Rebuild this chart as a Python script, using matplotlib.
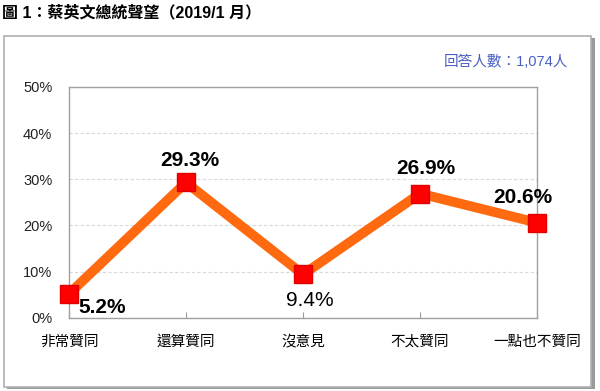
import matplotlib
matplotlib.use('Agg')
from matplotlib import pyplot as plt
from matplotlib.patches import Rectangle
from matplotlib.ticker import FuncFormatter

plt.rcParams['font.family'] = ['Liberation Sans', 'Noto Sans CJK TC', 'DejaVu Sans']

# data
categories = ['非常贊同', '還算贊同', '沒意見', '不太贊同', '一點也不贊同']
values = [5.2, 29.3, 9.4, 26.9, 20.6]
y_ticks = [0, 10, 20, 30, 40, 50]

fig = plt.figure(figsize=(6, 3.91), dpi=100)

# outer frame with a small shadow
fig.patches.append(Rectangle((0.011, 0.004), 0.98, 0.898, transform=fig.transFigure,
                             facecolor='#9a9a9a', edgecolor='none', zorder=0))
fig.patches.append(Rectangle((0.007, 0.010), 0.978, 0.898, transform=fig.transFigure,
                             facecolor='white', edgecolor='#b0b0b0', linewidth=1.2, zorder=1))

fig.text(0.004, 0.968, '圖 1：蔡英文總統聲望（2019/1 月）', fontsize=11.5,
         fontweight='bold', ha='left', va='center')
fig.text(0.947, 0.842, '回答人數：1,074人', fontsize=10.5, color='#4a5fc4',
         ha='right', va='center')

ax = fig.add_axes([0.115, 0.187, 0.78, 0.591])
ax.set_zorder(2)
x = list(range(len(categories)))
ax.plot(x, values, color='#ff6a10', linewidth=7, solid_capstyle='round',
        zorder=3, clip_on=False)
ax.plot(x, values, linestyle='none', marker='s', markersize=13,
        markerfacecolor='#ff0000', markeredgecolor='#e00000', zorder=4, clip_on=False)

ax.set_xlim(0, len(categories) - 1)
ax.set_ylim(0, 50)
ax.set_yticks(y_ticks)
ax.yaxis.set_major_formatter(FuncFormatter(lambda v, p: '%d%%' % v))
ax.set_xticks(x)
ax.set_xticklabels(categories, fontsize=10.5)
ax.tick_params(axis='x', direction='in', length=4, color='#999999', pad=12)
ax.tick_params(axis='y', length=0, labelsize=10.5, pad=12)
for t in ax.get_yticklabels():
    t.set_color('#222222')

for s in ax.spines.values():
    s.set_color('#a0a0a0')
    s.set_linewidth(1)
ax.grid(axis='y', color='#d8d8d8', linestyle=(0, (3, 2)), linewidth=0.8)
ax.set_axisbelow(True)

# data labels: offsets in points from each marker
label_offsets = [(24, -10), (3, 16), (5, -19), (4, 18), (-10, 18)]
label_bold = [True, True, False, True, True]
for xi, v, off, b in zip(x, values, label_offsets, label_bold):
    ax.annotate('%.1f%%' % v, (xi, v), xytext=off, textcoords='offset points',
                ha='center', va='center', fontsize=15,
                fontweight='bold' if b else 'normal', zorder=5, annotation_clip=False)

fig.savefig('out.png', dpi=100, facecolor='white')
